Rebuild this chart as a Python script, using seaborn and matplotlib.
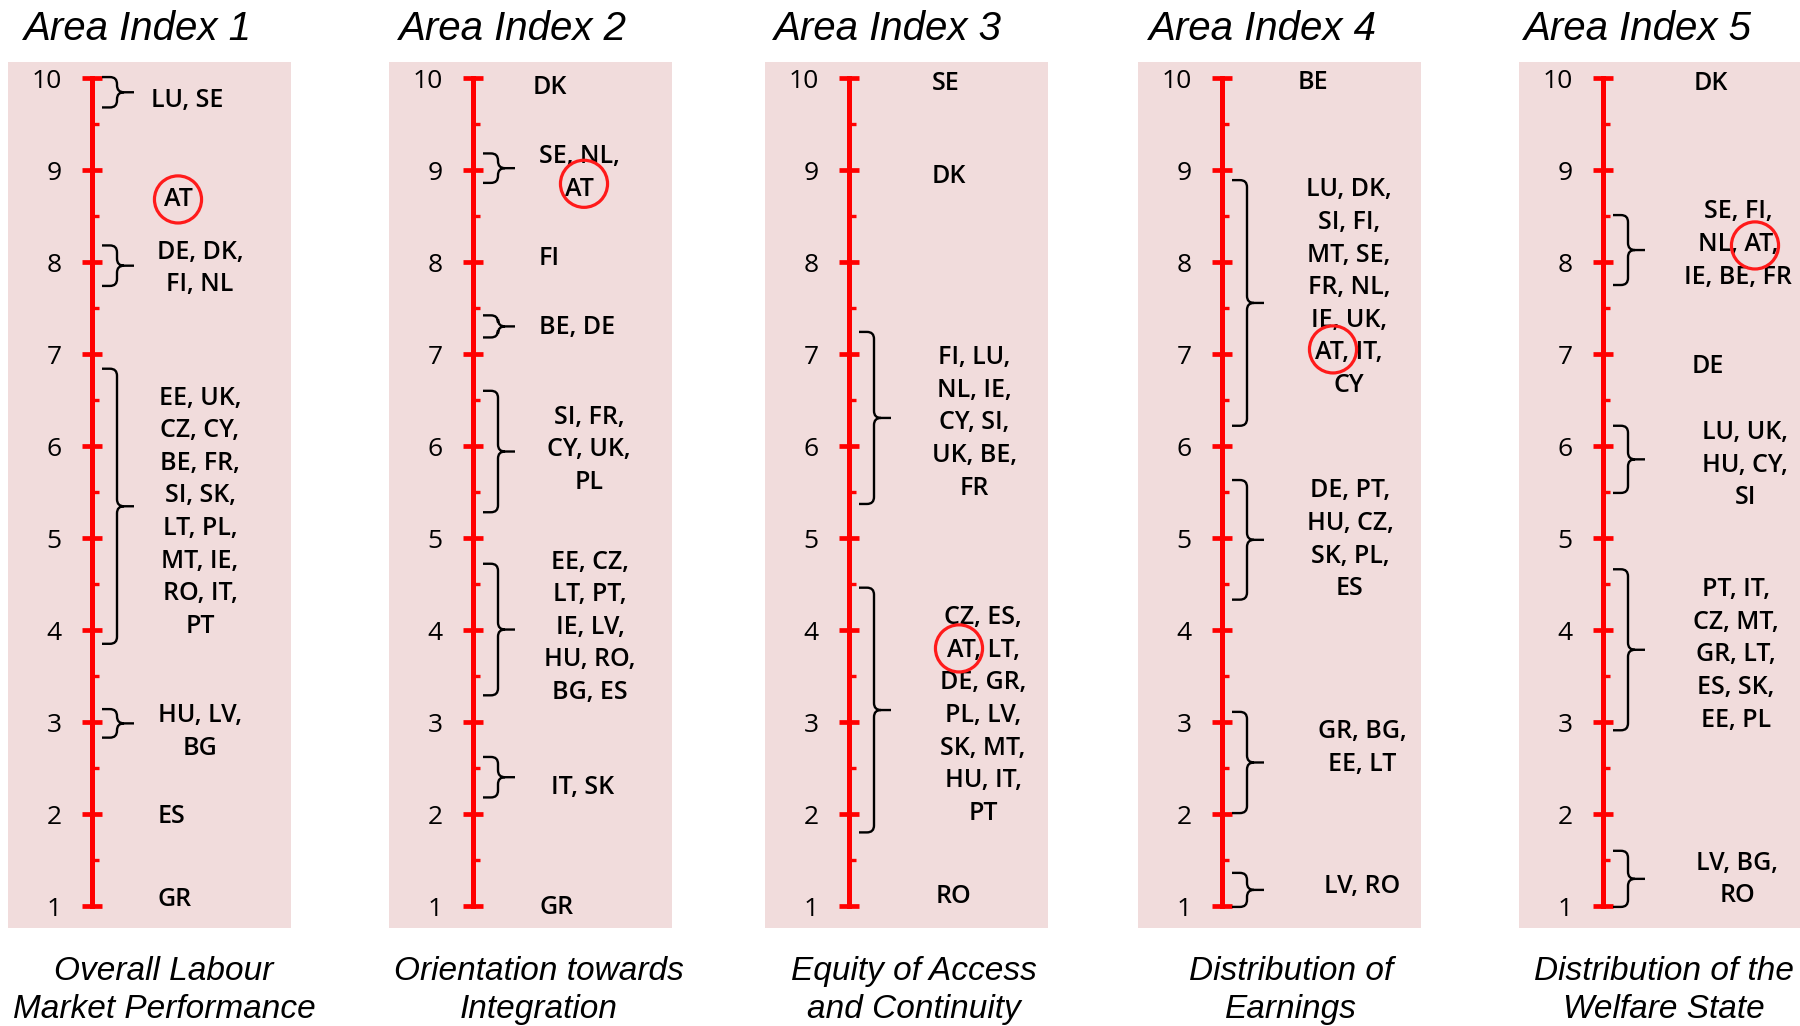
import matplotlib
matplotlib.use("Agg")
import matplotlib.pyplot as plt
from matplotlib.path import Path
from matplotlib.patches import PathPatch
import seaborn as sns

# ---- data -------------------------------------------------------------
titles = ["Area Index 1", "Area Index 2", "Area Index 3", "Area Index 4", "Area Index 5"]
subtitles = ["Overall Labour\nMarket Performance",
             "Orientation towards\nIntegration",
             "Equity of Access\nand Continuity",
             "Distribution of\nEarnings",
             "Distribution of the\nWelfare State"]

scale_ticks = [1, 2, 3, 4, 5, 6, 7, 8, 9, 10]
half_ticks = [1.5, 2.5, 3.5, 4.5, 5.5, 6.5, 7.5, 8.5, 9.5]

# country groups per area index: label text, score where the label sits, bracket range
labels1 = ["LU, SE", "AT", "DE, DK,\nFI, NL",
           "EE, UK,\nCZ, CY,\nBE, FR,\nSI, SK,\nLT, PL,\nMT, IE,\nRO, IT,\nPT",
           "HU, LV,\nBG", "ES", "GR"]
scores1 = [9.76, 8.68, 7.93, 5.28, 2.89, 1.97, 1.07]
ranges1 = [(9.68, 10.01), None, (7.74, 8.18), (3.85, 6.84), (2.83, 3.14), None, None]

labels2 = ["DK", "SE, NL,\nAT", "FI", "BE, DE", "SI, FR,\nCY, UK,\nPL",
           "EE, CZ,\nLT, PT,\nIE, LV,\nHU, RO,\nBG, ES", "IT, SK", "GR"]
scores2 = [9.90, 8.97, 8.04, 7.29, 5.96, 4.03, 2.29, 0.98]
ranges2 = [None, (8.86, 9.18), None, (7.18, 7.42), (5.28, 6.60), (3.29, 4.72), (2.18, 2.62), None]

labels3 = ["SE", "DK", "FI, LU,\nNL, IE,\nCY, SI,\nUK, BE,\nFR",
           "CZ, ES,\nAT, LT,\nDE, GR,\nPL, LV,\nSK, MT,\nHU, IT,\nPT", "RO"]
scores3 = [9.94, 8.93, 6.25, 3.07, 1.10]
ranges3 = [None, None, (5.37, 7.24), (1.80, 4.46), None]

labels4 = ["BE", "LU, DK,\nSI, FI,\nMT, SE,\nFR, NL,\nIE, UK,\nAT, IT,\nCY",
           "DE, PT,\nHU, CZ,\nSK, PL,\nES", "GR, BG,\nEE, LT", "LV, RO"]
scores4 = [9.95, 7.72, 4.98, 2.72, 1.21]
ranges4 = [None, (6.22, 8.89), (4.33, 5.63), (2.01, 3.11), (0.99, 1.36)]

labels5 = ["DK", "SE, FI,\nNL, AT,\nIE, BE, FR", "DE", "LU, UK,\nHU, CY,\nSI",
           "PT, IT,\nCZ, MT,\nGR, LT,\nES, SK,\nEE, PL", "LV, BG,\nRO"]
scores5 = [9.94, 8.19, 6.86, 5.79, 3.73, 1.29]
ranges5 = [None, (7.75, 8.51), None, (5.49, 6.22), (2.91, 4.66), (0.99, 1.60)]

# Austria's position on each scale (highlighted)
at_scores = [8.68, 8.85, 3.80, 7.05, 8.18]

# ---- layout (pixels) --------------------------------------------------
label_dx = [[95, 86, 108, 108, 108, 80, 83],
            [77, 106, 76, 104, 116, 117, 110, 84],
            [97, 100, 125, 134, 104],
            [91, 127, 128, 140, 140],
            [108, 135, 105, 142, 133, 134]]
at_dx = [86, 111, 110, 111, 152]
title_dx = [130, 124, 123, 125, 119]
sub_dx = [156, 150, 149, 153, 145]

W, H = 1800, 1026
panel_left = [8, 389, 765, 1138, 1519]
panel_w = 283
box_top, box_bot = 62, 928
axis_x = 84
px_per_unit = 92.0
pink = "#f1dcdc"
red = "#ff0000"

all_labels = [labels1, labels2, labels3, labels4, labels5]
all_scores = [scores1, scores2, scores3, scores4, scores5]
all_ranges = [ranges1, ranges2, ranges3, ranges4, ranges5]

sns.set_theme(style="white")
plt.rcParams['font.family'] = ['Open Sans', 'DejaVu Sans']


def draw_brace(ax, lo, hi):
    x0, x1, x2 = axis_x + 10, axis_x + 25, axis_x + 42
    r = 7
    ry = r / px_per_unit
    mid = (lo + hi) / 2
    verts = [(x0, hi), (x1 - r, hi), (x1, hi), (x1, hi - ry),
             (x1, mid + ry), (x1, mid), (x1 + r, mid), (x2, mid),
             (x1 + r, mid), (x1, mid), (x1, mid - ry),
             (x1, lo + ry), (x1, lo), (x1 - r, lo), (x0, lo)]
    codes = [Path.MOVETO, Path.LINETO, Path.CURVE3, Path.CURVE3,
             Path.LINETO, Path.CURVE3, Path.CURVE3, Path.LINETO,
             Path.MOVETO, Path.CURVE3, Path.CURVE3,
             Path.LINETO, Path.CURVE3, Path.CURVE3, Path.LINETO]
    ax.add_patch(PathPatch(Path(verts, codes), fill=False, lw=1.7,
                           edgecolor="black", zorder=3))


fig = plt.figure(figsize=(18, 10.26), dpi=100)

for i in range(5):
    ax = fig.add_axes([panel_left[i] / W, 1 - box_bot / H,
                       panel_w / W, (box_bot - box_top) / H])
    ax.set_facecolor(pink)
    ax.set_xlim(0, panel_w)
    ax.set_ylim(1 - 22 / px_per_unit, 10 + 16 / px_per_unit)
    sns.despine(ax=ax, top=True, right=True, bottom=True, left=False)
    ax.grid(False)

    sp = ax.spines['left']
    sp.set_position(('data', axis_x))
    sp.set_color(red)
    sp.set_linewidth(3.6)
    sp.set_bounds(1, 10)
    sp.set_zorder(4)

    ax.set_xticks([])
    ax.set_yticks(scale_ticks)
    ax.set_yticks(half_ticks, minor=True)
    ax.set_yticklabels([str(t) for t in scale_ticks])
    ax.tick_params(axis='y', which='major', left=True, direction='inout',
                   length=13.7, width=3.4, color=red, pad=15, labelsize=19,
                   labelcolor='black')
    ax.tick_params(axis='y', which='minor', left=True, direction='in',
                   length=5, width=2.4, color=red)

    for lab, sc, rg, dx in zip(all_labels[i], all_scores[i], all_ranges[i], label_dx[i]):
        ax.text(axis_x + dx, sc, lab, ha='center', va='center',
                multialignment='center', fontsize=18, fontweight='semibold',
                linespacing=1.4, color='black', zorder=3)
        if rg is not None:
            draw_brace(ax, rg[0], rg[1])

    sns.scatterplot(x=[axis_x + at_dx[i]], y=[at_scores[i]], ax=ax, s=1150,
                    marker='o', facecolors='none', edgecolor="#ff1a1a",
                    linewidth=2.3, legend=False, zorder=6)
    ax.set_xlabel("")
    ax.set_ylabel("")

    fig.text((panel_left[i] + title_dx[i]) / W, 1 - 40 / H, titles[i],
             ha='center', va='baseline', fontsize=29, style='italic',
             family=['Liberation Sans', 'DejaVu Sans'], color='black')
    for k, line in enumerate(subtitles[i].split("\n")):
        fig.text((panel_left[i] + sub_dx[i]) / W, 1 - (980 + 38 * k) / H, line,
                 ha='center', va='baseline', fontsize=24, style='italic',
                 family=['Liberation Sans', 'DejaVu Sans'], color='black')

fig.savefig("out.png", dpi=100, facecolor="white")
